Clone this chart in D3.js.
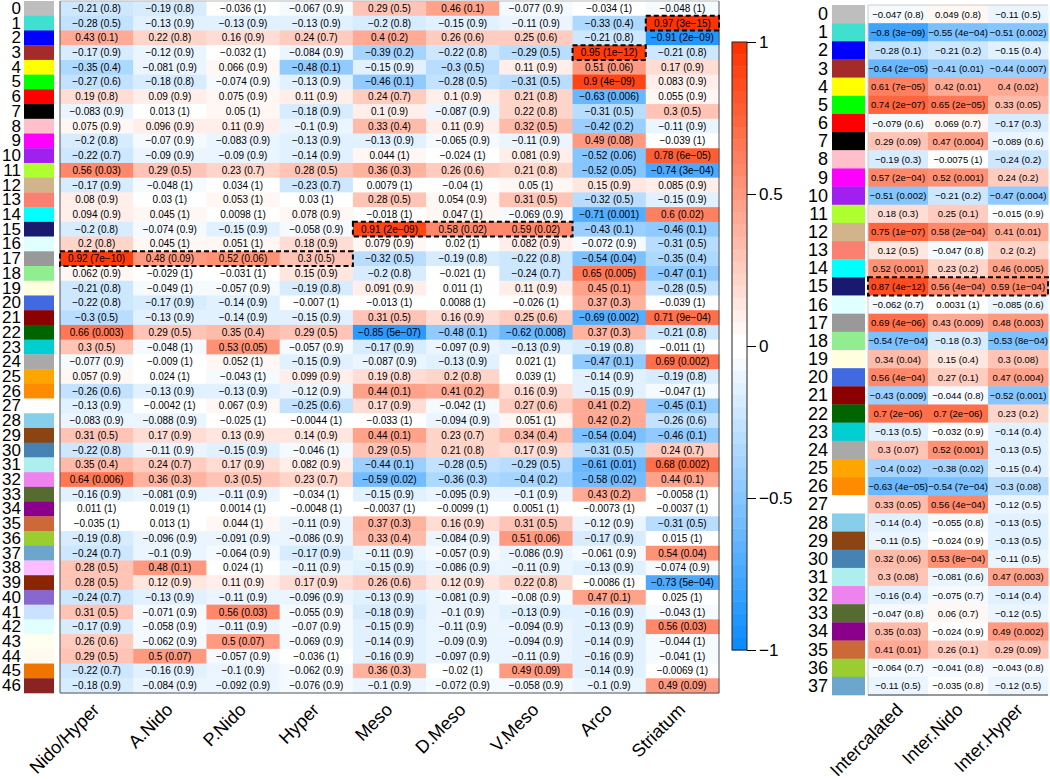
<!DOCTYPE html>
<html><head><meta charset="utf-8">
<script src="https://cdn.jsdelivr.net/npm/d3@7"></script>
<style>body{margin:0;background:#fff}svg{display:block}text{font-family:"Liberation Sans",Arial,Helvetica,sans-serif}</style>
</head><body><svg id="c" width="1050" height="779"></svg>
<script>
// ---------- DATA ----------
const moduleIds = d3.range(0, 47);
const moduleColors = ["#BEBEBE","#40E0D0","#0000FF","#A52A2A","#FFFF00","#00FF00","#FF0000","#000000","#FFC0CB","#FF00FF","#A020F0","#ADFF2F","#D2B48C","#FA8072","#00FFFF","#191970","#E0FFFF","#999999","#90EE90","#FFFFE0","#4169E1","#8B0000","#006400","#00CED1","#A9A9A9","#FFA500","#FF8C00","#FFFFFF","#87CEEB","#8B4513","#4682B4","#AFEEEE","#EE82EE","#556B2F","#8B008B","#CD6839","#9ACD32","#6CA6CD","#FFBBFF","#8B2500","#8968CD","#CAE1FF","#E0FFFF","#FFFFF0","#FFFAF0","#EE7600","#8B2323"];
const regions = ["Nido/Hyper","A.Nido","P.Nido","Hyper","Meso","D.Meso","V.Meso","Arco","Striatum"];

const nidoHyper = [-0.21,-0.28,0.43,-0.17,-0.35,-0.27,0.19,-0.083,0.075,-0.2,-0.22,0.56,-0.17,0.08,0.094,-0.2,0.2,0.92,0.062,-0.21,-0.22,-0.3,0.66,0.3,-0.077,0.057,-0.26,-0.13,-0.083,0.31,-0.22,0.35,0.64,-0.16,0.011,-0.035,-0.19,-0.24,0.28,0.28,-0.24,0.31,-0.17,0.26,0.29,-0.22,-0.18];
const nidoHyperP = ["0.8","0.5","0.1","0.9","0.4","0.6","0.8","0.9","0.9","0.8","0.7","0.03","0.9","0.9","0.9","0.8","0.8","7e-10","0.9","0.8","0.8","0.5","0.003","0.5","0.9","0.9","0.6","0.9","0.9","0.5","0.8","0.4","0.006","0.9","1","1","0.8","0.7","0.5","0.5","0.7","0.5","0.9","0.6","0.5","0.7","0.9"];
const aNido = [-0.19,-0.13,0.22,-0.12,-0.081,-0.18,0.09,0.013,0.096,-0.07,-0.09,0.29,-0.048,0.03,0.045,-0.074,0.045,0.48,-0.029,-0.049,-0.17,-0.13,0.29,-0.048,-0.009,0.024,-0.13,-0.0042,-0.088,0.17,-0.11,0.24,0.36,-0.081,0.019,0.013,-0.096,-0.1,0.48,0.12,-0.13,-0.071,-0.058,-0.062,0.5,-0.16,-0.084];
const aNidoP = ["0.8","0.9","0.8","0.9","0.9","0.8","0.9","1","0.9","0.9","0.9","0.5","1","1","1","0.9","1","0.09","1","1","0.9","0.9","0.5","1","1","1","0.9","1","0.9","0.9","0.9","0.7","0.3","0.9","1","1","0.9","0.9","0.1","0.9","0.9","0.9","0.9","0.9","0.07","0.9","0.9"];
const pNido = [-0.036,-0.13,0.16,-0.032,0.066,-0.074,0.075,0.05,0.11,-0.083,-0.09,0.23,0.034,0.053,0.0098,-0.15,0.051,0.52,-0.031,-0.057,-0.14,-0.14,0.35,0.53,0.052,-0.043,-0.13,0.067,-0.025,0.13,-0.15,0.17,0.3,-0.11,0.0014,0.044,-0.091,-0.064,0.024,0.11,-0.11,0.56,-0.11,0.5,-0.057,-0.1,-0.092];
const pNidoP = ["1","0.9","0.9","1","0.9","0.9","0.9","1","0.9","0.9","0.9","0.7","1","1","1","0.9","1","0.06","1","0.9","0.9","0.9","0.4","0.05","1","1","0.9","0.9","1","0.9","0.9","0.9","0.5","0.9","1","1","0.9","0.9","1","0.9","0.9","0.03","0.9","0.07","0.9","0.9","0.9"];
const hyper = [-0.067,-0.13,0.24,-0.084,-0.48,-0.13,0.11,-0.18,-0.1,-0.13,-0.14,0.28,-0.23,0.03,0.078,-0.058,0.18,0.3,0.15,-0.19,-0.007,-0.15,0.29,-0.057,-0.15,0.099,-0.12,-0.25,-0.0044,0.14,-0.046,0.082,0.23,-0.034,-0.0048,-0.11,-0.086,-0.17,-0.11,0.17,-0.096,-0.055,-0.07,-0.069,-0.036,-0.062,-0.076];
const hyperP = ["0.9","0.9","0.7","0.9","0.1","0.9","0.9","0.9","0.9","0.9","0.9","0.5","0.7","1","0.9","0.9","0.9","0.5","0.9","0.8","1","0.9","0.5","0.9","0.9","0.9","0.9","0.6","1","0.9","1","0.9","0.7","1","1","0.9","0.9","0.9","0.9","0.9","0.9","0.9","0.9","0.9","1","0.9","0.9"];
const meso = [0.29,-0.2,0.4,-0.39,-0.15,-0.46,0.24,0.1,0.33,-0.13,0.044,0.36,0.0079,0.28,-0.018,0.91,0.079,-0.32,-0.2,0.091,-0.013,0.31,-0.85,-0.17,-0.087,0.19,0.44,0.17,-0.033,0.44,0.29,-0.44,-0.59,-0.15,-0.0037,0.37,0.33,-0.11,-0.15,0.26,-0.13,-0.18,-0.15,-0.14,-0.16,0.36,-0.1];
const mesoP = ["0.5","0.8","0.2","0.2","0.9","0.1","0.7","0.9","0.4","0.9","1","0.3","1","0.5","1","2e-09","0.9","0.5","0.8","0.9","1","0.5","5e-07","0.9","0.9","0.8","0.1","0.9","1","0.1","0.5","0.1","0.02","0.9","1","0.3","0.4","0.9","0.9","0.6","0.9","0.9","0.9","0.9","0.9","0.3","0.9"];
const dMeso = [0.46,-0.15,0.26,-0.22,-0.3,-0.28,0.1,-0.087,0.11,-0.065,-0.024,0.26,-0.04,0.054,0.047,0.58,0.02,-0.19,-0.021,0.011,0.0088,0.16,-0.48,-0.097,-0.13,0.2,0.41,-0.042,-0.094,0.23,0.21,-0.28,-0.36,-0.095,-0.0099,0.16,-0.084,-0.057,-0.086,0.12,-0.081,-0.1,-0.11,-0.09,-0.097,-0.02,-0.072];
const dMesoP = ["0.1","0.9","0.6","0.8","0.5","0.5","0.9","0.9","0.9","0.9","1","0.6","1","0.9","1","0.02","1","0.8","1","1","1","0.9","0.1","0.9","0.9","0.8","0.2","1","0.9","0.7","0.8","0.5","0.3","0.9","1","0.9","0.9","0.9","0.9","0.9","0.9","0.9","0.9","0.9","0.9","1","0.9"];
const vMeso = [-0.077,-0.11,0.25,-0.29,0.11,-0.31,0.21,0.22,0.32,-0.11,0.081,0.21,0.05,0.31,-0.069,0.59,0.082,-0.22,-0.24,0.11,-0.026,0.25,-0.62,-0.13,0.021,0.039,0.16,0.27,0.051,0.34,0.17,-0.29,-0.4,-0.1,0.0051,0.31,0.51,-0.086,-0.11,0.22,-0.08,-0.13,-0.094,-0.094,-0.11,0.49,-0.058];
const vMesoP = ["0.9","0.9","0.6","0.5","0.9","0.5","0.8","0.8","0.5","0.9","0.9","0.8","1","0.5","0.9","0.02","0.9","0.8","0.7","0.9","1","0.6","0.008","0.9","1","1","0.9","0.6","1","0.4","0.9","0.5","0.2","0.9","1","0.5","0.06","0.9","0.9","0.8","0.9","0.9","0.9","0.9","0.9","0.09","0.9"];
const arco = [-0.034,-0.33,-0.21,0.95,0.51,0.9,-0.63,-0.31,-0.42,0.49,-0.52,-0.52,0.15,-0.32,-0.71,-0.43,-0.072,-0.54,0.65,0.45,0.37,-0.69,0.37,-0.19,-0.47,-0.14,-0.15,0.41,0.42,-0.54,-0.31,-0.61,-0.58,0.43,-0.0073,-0.12,-0.17,-0.061,-0.13,-0.0086,0.47,-0.16,-0.13,-0.14,-0.16,-0.14,-0.1];
const arcoP = ["1","0.4","0.8","1e-12","0.06","4e-09","0.006","0.5","0.2","0.08","0.06","0.05","0.9","0.5","0.001","0.1","0.9","0.04","0.005","0.1","0.3","0.002","0.3","0.8","0.1","0.9","0.9","0.2","0.2","0.04","0.5","0.01","0.02","0.2","1","0.9","0.9","0.9","0.9","1","0.1","0.9","0.9","0.9","0.9","0.9","0.9"];
const striatum = [-0.048,0.97,-0.91,-0.21,0.17,0.083,0.055,0.3,-0.11,-0.039,0.78,-0.74,0.085,-0.15,0.6,-0.46,-0.31,-0.35,-0.47,-0.28,-0.039,0.71,-0.21,-0.011,0.69,-0.19,-0.047,-0.45,-0.26,-0.46,0.24,0.68,0.44,-0.0058,-0.0037,-0.31,0.015,0.54,-0.074,-0.73,0.025,-0.043,0.56,-0.044,-0.041,-0.0069,0.49];
const striatumP = ["1","3e-15","2e-09","0.8","0.9","0.9","0.9","0.5","0.9","1","6e-05","3e-04","0.9","0.9","0.02","0.1","0.5","0.4","0.1","0.5","1","9e-04","0.8","1","0.002","0.8","1","0.1","0.6","0.1","0.7","0.002","0.1","1","1","0.5","1","0.04","0.9","5e-04","1","1","0.03","1","1","1","0.09"];

const interModuleIds = d3.range(0, 38);
const interRegions = ["Intercalated","Inter.Nido","Inter.Hyper"];
const intercalated = [-0.047,-0.8,-0.28,-0.64,0.61,0.74,-0.079,0.29,-0.19,0.57,-0.51,0.18,0.75,0.12,0.52,0.87,-0.062,0.69,-0.54,0.34,0.56,-0.43,0.7,-0.13,0.3,-0.4,-0.63,0.33,-0.14,-0.11,0.32,0.3,-0.16,-0.047,0.35,0.41,-0.064,-0.11];
const intercalatedP = ["0.8","3e-09","0.1","2e-05","7e-05","2e-07","0.6","0.09","0.3","2e-04","0.002","0.3","1e-07","0.5","0.001","4e-12","0.7","4e-06","7e-04","0.04","4e-04","0.009","2e-06","0.5","0.07","0.02","4e-05","0.05","0.4","0.5","0.06","0.08","0.4","0.8","0.03","0.01","0.7","0.5"];
const interNido = [0.049,-0.55,-0.21,-0.41,0.42,0.65,0.069,0.47,-0.0075,0.52,-0.21,0.25,0.58,-0.047,0.23,0.56,0.0031,0.43,-0.18,0.15,0.27,-0.044,0.7,-0.032,0.52,-0.38,-0.54,0.56,-0.055,-0.024,0.53,-0.081,-0.075,0.06,-0.024,0.26,-0.041,-0.035];
const interNidoP = ["0.8","4e-04","0.2","0.01","0.01","2e-05","0.7","0.004","1","0.001","0.2","0.1","2e-04","0.8","0.2","4e-04","1","0.009","0.3","0.4","0.1","0.8","2e-06","0.9","0.001","0.02","7e-04","4e-04","0.8","0.9","8e-04","0.6","0.7","0.7","0.9","0.1","0.8","0.8"];
const interHyper = [-0.11,-0.51,-0.15,-0.44,0.4,0.33,-0.17,-0.089,-0.24,0.24,-0.47,-0.015,0.41,0.2,0.46,0.59,-0.085,0.48,-0.53,0.3,0.47,-0.52,0.23,-0.14,-0.13,-0.15,-0.3,-0.12,-0.13,-0.13,-0.11,0.47,-0.14,-0.12,0.49,0.29,-0.043,-0.12];
const interHyperP = ["0.5","0.002","0.4","0.007","0.02","0.05","0.3","0.6","0.2","0.2","0.004","0.9","0.01","0.2","0.005","1e-04","0.6","0.003","8e-04","0.08","0.004","0.001","0.2","0.4","0.5","0.4","0.08","0.5","0.5","0.5","0.5","0.003","0.4","0.5","0.002","0.09","0.8","0.5"];

// highlighted cells: [row, firstCol, lastCol]
const leftBoxes = [[1,8,8],[3,7,7],[15,4,6],[17,0,3]];
const rightBoxes = [[15,0,2]];
const colorbarTicks = [1,0.5,0,-0.5,-1];

// ---------- COLOUR SCALE (WGCNA blueWhiteRed, 50 steps) ----------
const blueEnd = d3.rgb(13,140,255), redEnd = d3.rgb(255,51,0);
const pal = [];
for (let i=0;i<25;i++) pal.push(d3.interpolateRgb(blueEnd,"#ffffff")(i/24));
for (let i=0;i<25;i++) pal.push(d3.interpolateRgb("#ffffff",redEnd)(i/24));
const color = d3.scaleQuantize().domain([-1,1]).range(pal);

const fmt = s => String(s).replace(/-/g,"\u2212");
const svg = d3.select("#c");

function heatmap(opt){
  const {rows, cols, vals, ps, x0, x1, y0, y1, labelX, swX0, swX1, cellFont, boxes, xlabY} = opt;
  const x = d3.scaleBand().domain(d3.range(cols.length)).range([x0,x1]);
  const y = d3.scaleBand().domain(rows).range([y0,y1]);
  const g = svg.append("g");
  const cells = [];
  cols.forEach((c,j)=> rows.forEach((r,i)=> cells.push({i,j,r,v:vals[j][i],p:ps[j][i]})));
  g.selectAll("rect.cell").data(cells).join("rect")
    .attr("x",d=>x(d.j)).attr("y",d=>y(d.r)).attr("width",x.bandwidth()+0.5).attr("height",y.bandwidth()+0.5)
    .attr("fill",d=>color(d.v));
  g.selectAll("text.cell").data(cells).join("text")
    .attr("x",d=>x(d.j)+x.bandwidth()/2).attr("y",d=>y(d.r)+y.bandwidth()/2)
    .attr("text-anchor","middle").attr("dominant-baseline","central")
    .attr("font-size",cellFont).attr("fill","#000")
    .text(d=>fmt(d.v)+" ("+fmt(d.p)+")");
  // swatches
  g.selectAll("rect.sw").data(rows).join("rect")
    .attr("x",swX0).attr("width",swX1-swX0).attr("y",r=>y(r)).attr("height",y.bandwidth()+0.3)
    .attr("fill",r=>moduleColors[r]);
  // row labels
  g.selectAll("text.rl").data(rows).join("text")
    .attr("x",labelX).attr("y",r=>y(r)+y.bandwidth()/2).attr("text-anchor","end").attr("dominant-baseline","central")
    .attr("font-size",opt.rowFont).text(r=>r);
  // column labels
  g.selectAll("text.cl").data(cols).join("text")
    .attr("transform",(c,j)=>`translate(${x(j)+x.bandwidth()/2+opt.xlabDx},${xlabY}) rotate(-45)`)
    .attr("text-anchor","end").attr("font-size",opt.colFont).text(c=>c);
  // frame
  opt.frame(g,x0,x1,y0,y1);
  // dashed boxes
  g.selectAll("rect.box").data(boxes).join("rect")
    .attr("x",b=>x(b[1])).attr("y",b=>y(rows[b[0]]))
    .attr("width",b=>x(b[2])+x.bandwidth()-x(b[1])).attr("height",y.bandwidth())
    .attr("fill","none").attr("stroke","#000").attr("stroke-width",2).attr("stroke-dasharray","5,3");
}

heatmap({rows:moduleIds, cols:regions,
  vals:[nidoHyper,aNido,pNido,hyper,meso,dMeso,vMeso,arco,striatum],
  ps:[nidoHyperP,aNidoP,pNidoP,hyperP,mesoP,dMesoP,vMesoP,arcoP,striatumP],
  x0:60,x1:719,y0:1,y1:693,labelX:21,swX0:24,swX1:54,cellFont:10,rowFont:17,colFont:18,
  boxes:leftBoxes,xlabY:711,xlabDx:4,
  frame:(g,x0,x1,y0,y1)=>{
    g.append("line").attr("x1",x0).attr("x2",x1).attr("y1",y0).attr("y2",y0).attr("stroke","#bbb");
    g.append("line").attr("x1",x0).attr("x2",x0).attr("y1",y0).attr("y2",y1).attr("stroke","#555");
    g.append("line").attr("x1",x1).attr("x2",x1).attr("y1",y0).attr("y2",y1).attr("stroke","#555");
    g.append("line").attr("x1",x0).attr("x2",x1).attr("y1",y1).attr("y2",y1).attr("stroke","#555");
  }});

heatmap({rows:interModuleIds, cols:interRegions,
  vals:[intercalated,interNido,interHyper], ps:[intercalatedP,interNidoP,interHyperP],
  x0:868,x1:1048,y0:5,y1:695,labelX:828,swX0:832,swX1:865,cellFont:9.5,rowFont:18,colFont:18,
  boxes:rightBoxes,xlabY:711,xlabDx:6,
  frame:(g,x0,x1,y0,y1)=>{
    g.append("line").attr("x1",x0).attr("x2",x1).attr("y1",y0).attr("y2",y0).attr("stroke","#ccc");
    g.append("line").attr("x1",x0).attr("x2",x0).attr("y1",y0).attr("y2",y1).attr("stroke","#ccc");
    g.append("line").attr("x1",x0).attr("x2",x1).attr("y1",y1).attr("y2",y1).attr("stroke","#333");
  }});

// ---------- COLOUR BAR ----------
const cb = svg.append("g");
const cy = d3.scaleLinear().domain([-1,1]).range([650,42]);
const steps = d3.range(50).map(i=>-1+i*0.04);
cb.selectAll("rect").data(steps).join("rect")
  .attr("x",732).attr("width",15).attr("y",d=>cy(d+0.04)).attr("height",d=>cy(d)-cy(d+0.04)+0.4)
  .attr("fill",d=>color(d+0.02));
cb.append("rect").attr("x",732).attr("y",42).attr("width",15).attr("height",608).attr("fill","none").attr("stroke","#222");
const axis = d3.axisRight(cy).tickValues(colorbarTicks).tickSize(9).tickFormat(d=>fmt(d));
const ag = cb.append("g").attr("transform","translate(747,0)").call(axis);
ag.select(".domain").remove();
ag.selectAll("text").attr("font-size",17).attr("font-family","Liberation Sans, Arial, sans-serif").attr("fill","#000");
ag.selectAll("line").attr("stroke","#000");
</script></body></html>
